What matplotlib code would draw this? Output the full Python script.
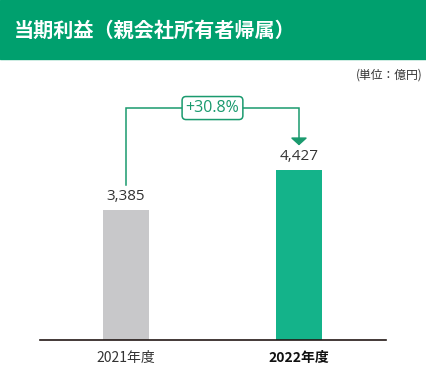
import matplotlib.pyplot as plt
from matplotlib.patches import Rectangle

plt.rcParams['font.family'] = ['Noto Sans CJK JP', 'DejaVu Sans']

TITLE = "当期利益（親会社所有者帰属）"
UNIT = "(単位：億円)"
YEARS = ["2021年度", "2022年度"]
VALUES = [3385, 4427]
BAR_COLORS = ["#C8C8CA", "#14B38A"]

GREEN_HEAD = "#00A06E"
LINE_GREEN = "#1A9A6E"
NUM_FONT = ['Open Sans', 'DejaVu Sans']

fig = plt.figure(figsize=(4.27, 3.70), dpi=100)

# header band
fig.patches.append(Rectangle((0, 311 / 370), 1, 59 / 370, transform=fig.transFigure,
                             color=GREEN_HEAD, zorder=0))
fig.text(14 / 427, 1 - 30 / 370, TITLE, color="white", fontsize=14.5,
         fontweight="bold", va="center", ha="left")
fig.text(423 / 427, 1 - 75 / 370, UNIT, color="#333333", fontsize=8.5,
         va="center", ha="right")

ax = fig.add_axes([40 / 427, 30 / 370, 346 / 427, 280 / 370])
x = list(range(len(VALUES)))
ax.bar(x, VALUES, width=0.266, color=BAR_COLORS, zorder=2)
ax.set_xlim(-0.497, 1.503)
ax.set_ylim(0, 7291)

for xi, v in zip(x, VALUES):
    ax.text(xi, v + 150, f"{v:,}", ha="center", va="bottom", fontsize=11,
            color="#333333", family=NUM_FONT)

# growth bracket
top_y = 6040
gap = 640
ax.plot([0, 0, 1, 1], [VALUES[0] + gap, top_y, top_y, VALUES[1] + gap + 170],
        color=LINE_GREEN, lw=1.1, zorder=3, solid_joinstyle="miter")
ax.annotate("", xy=(1, VALUES[1] + gap), xytext=(1, VALUES[1] + gap + 180),
            arrowprops=dict(arrowstyle="-|>,head_length=0.45,head_width=0.5",
                            color=LINE_GREEN, lw=1.1, shrinkA=0, shrinkB=0,
                            mutation_scale=10))
pct = (VALUES[1] / VALUES[0] - 1) * 100
ax.text(0.5, top_y, f"+{pct:.1f}%", ha="center", va="center", fontsize=11.5,
        color=LINE_GREEN, zorder=4, family=NUM_FONT,
        bbox=dict(boxstyle="round,pad=0.22,rounding_size=0.25", fc="white",
                  ec=LINE_GREEN, lw=1.1))

for s in ["top", "right", "left"]:
    ax.spines[s].set_visible(False)
ax.spines["bottom"].set_color("#231815")
ax.spines["bottom"].set_linewidth(1.2)
ax.set_yticks([])
ax.set_xticks(x)
ax.set_xticklabels(YEARS, fontsize=10)
ax.tick_params(axis="x", length=0, pad=8)
labels = ax.get_xticklabels()
labels[0].set_color("#333333")
labels[1].set_color("#111111")
labels[1].set_fontweight("bold")

fig.savefig("out.png", dpi=100)
